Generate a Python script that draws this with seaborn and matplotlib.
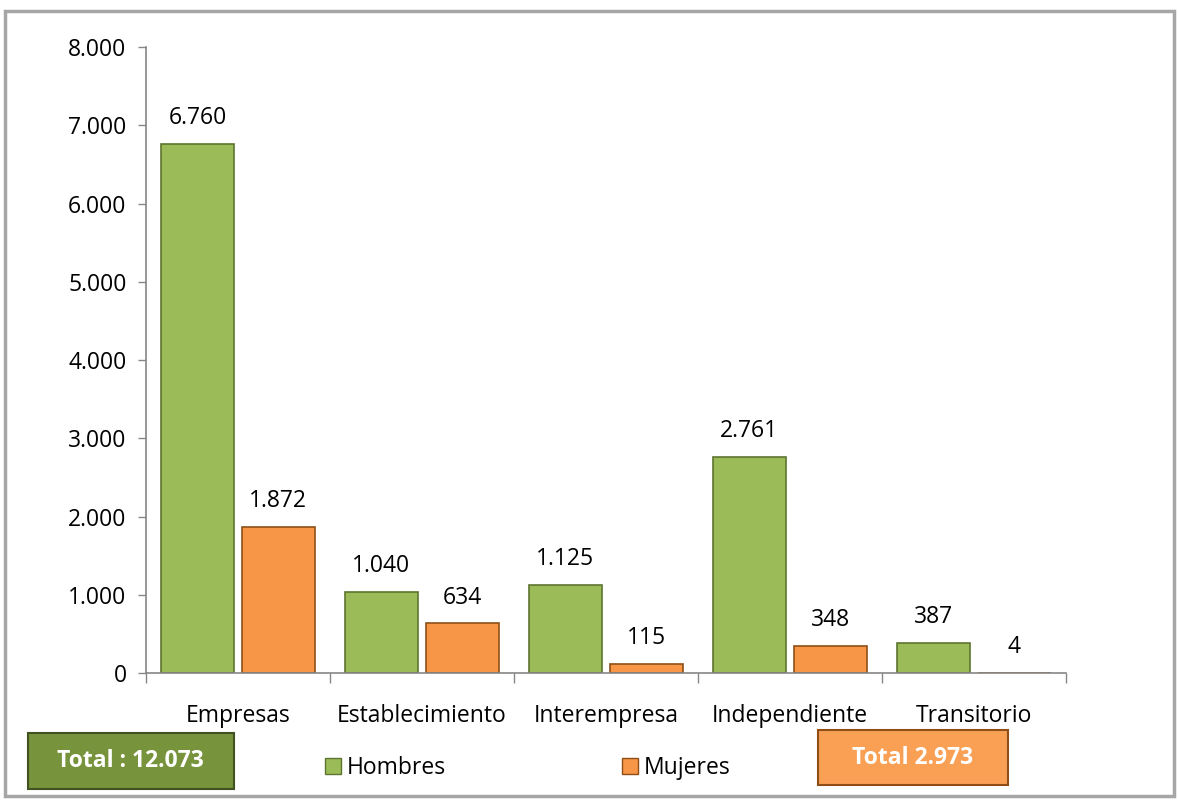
import pandas as pd
import matplotlib
matplotlib.use("Agg")
import matplotlib.pyplot as plt
import seaborn as sns
from matplotlib.patches import Rectangle
from matplotlib.ticker import FuncFormatter

# Datos del gráfico
categorias = ["Empresas", "Establecimiento", "Interempresa", "Independiente", "Transitorio"]
hombres = [6760, 1040, 1125, 2761, 387]
mujeres = [1872, 634, 115, 348, 4]
total_hombres = "Total : 12.073"
total_mujeres = "Total 2.973"

df = pd.DataFrame({
    "categoria": categorias * 2,
    "sexo": ["Hombres"] * len(categorias) + ["Mujeres"] * len(categorias),
    "valor": hombres + mujeres,
})

sns.set_style("white")
plt.rcParams["font.family"] = ["Open Sans", "DejaVu Sans"]
plt.rcParams["text.color"] = "black"
fs = 16.5

fig = plt.figure(figsize=(11.79, 8.01), dpi=100)
ax = fig.add_axes([0.1238, 0.1598, 0.904 - 0.1238, 0.9413 - 0.1598])

paleta = {"Hombres": "#9BBB59", "Mujeres": "#F79646"}
sns.barplot(data=df, x="categoria", y="valor", hue="sexo", palette=paleta,
            width=0.88, gap=0.1, saturation=1, ax=ax, legend=False)

bordes = {"Hombres": "#5E7530", "Mujeres": "#8E4E17"}
for cont, sexo in zip(ax.containers, ["Hombres", "Mujeres"]):
    for barra in cont:
        barra.set_edgecolor(bordes[sexo])
        barra.set_linewidth(1.2)
    etiquetas = [f"{int(v):,}".replace(",", ".") for v in cont.datavalues]
    ax.bar_label(cont, labels=etiquetas, padding=10, fontsize=fs, color="black")

# Ejes
ax.set_ylim(0, 8000)
ax.set_xlim(-0.5, len(categorias) - 0.5)
ax.set_yticks(range(0, 8001, 1000))
ax.yaxis.set_major_formatter(FuncFormatter(lambda v, p: f"{int(v):,}".replace(",", ".")))
ax.tick_params(axis="y", labelsize=fs, length=6, width=1, color="#868686",
               labelcolor="black", pad=8, left=True)

ax.set_xticks([i - 0.5 for i in range(len(categorias) + 1)])
ax.set_xticklabels([])
ax.tick_params(axis="x", which="major", length=7, width=1, color="#868686", bottom=True)
ax.set_xticks(range(len(categorias)), minor=True)
ax.set_xticklabels(categorias, minor=True)
ax.tick_params(axis="x", which="minor", length=0, labelsize=fs, labelcolor="black", pad=22)

ax.set_xlabel("")
ax.set_ylabel("")
for lado in ["top", "right"]:
    ax.spines[lado].set_visible(False)
for lado in ["left", "bottom"]:
    ax.spines[lado].set_color("#868686")
    ax.spines[lado].set_linewidth(1.2)

# Leyenda
handles = [Rectangle((0, 0), 1, 1, fc=paleta[s], ec=bordes[s]) for s in ["Hombres", "Mujeres"]]
fig.legend(handles, ["Hombres", "Mujeres"], loc="center left", bbox_to_anchor=(0.258, 0.041),
           ncol=2, frameon=False, fontsize=fs, handlelength=0.7, handleheight=0.7,
           handletextpad=0.25, columnspacing=7.7, labelcolor="black")

# Cuadros de totales
fig.patches.append(Rectangle((0.0237, 0.015), 0.1748, 0.070, transform=fig.transFigure,
                             fc="#77933C", ec="#3F5220", lw=1.5, zorder=5))
fig.text(0.111, 0.050, total_hombres, color="white", fontsize=fs, fontweight="bold",
         ha="center", va="center", zorder=6)
fig.patches.append(Rectangle((0.6938, 0.020), 0.1612, 0.0686, transform=fig.transFigure,
                             fc="#F9A054", ec="#8E4E17", lw=1.5, zorder=5))
fig.text(0.7744, 0.054, total_mujeres, color="white", fontsize=fs, fontweight="bold",
         ha="center", va="center", zorder=6)

# Marco del gráfico
fig.patches.append(Rectangle((0.004, 0.006), 0.992, 0.98, transform=fig.transFigure,
                             fill=False, ec="#A6A6A6", lw=2.5, zorder=1))

fig.savefig("out.png", dpi=100)
